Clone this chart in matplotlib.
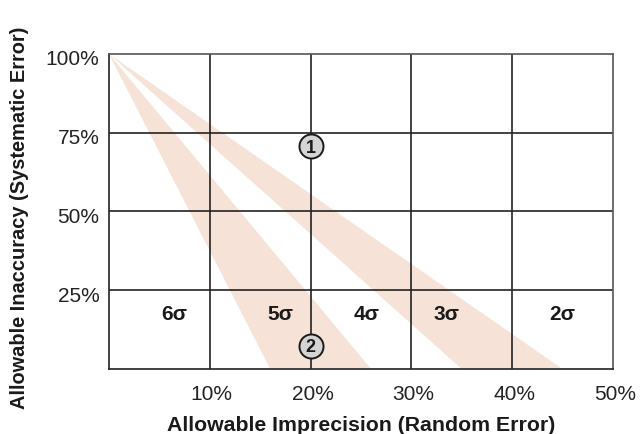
import matplotlib
matplotlib.use('Agg')
import matplotlib.pyplot as plt
import matplotlib.transforms as mtransforms

plt.rcParams['font.family'] = ['Liberation Sans', 'DejaVu Sans']

# shaded bands: each runs from the top-left corner (0%, 100%) down to the x axis
apex_x, apex_y = 0, 100
band_left = [16, 35]
band_right = [26, 45]

# sigma zone labels
sigma_labels = ['6σ', '5σ', '4σ', '3σ', '2σ']
sigma_x = [6.5, 17, 25.6, 33.5, 45]
sigma_y = [17.5, 17.5, 17.5, 17.5, 17.5]

# numbered markers
point_labels = ['1', '2']
point_x = [20, 20]
point_y = [70.7, 7.3]

x_ticks = [10, 20, 30, 40, 50]
y_ticks = [25, 50, 75, 100]

fig = plt.figure(figsize=(6.43, 4.35), dpi=100)
ax = fig.add_axes([0.1695, 0.1494, 0.7838, 0.7242])

for lo, hi in zip(band_left, band_right):
    ax.fill([apex_x, lo, hi], [apex_y, 0, 0], color='#f6e2d6', lw=0, zorder=1)

for x in x_ticks[:-1]:
    ax.axvline(x, color='#222222', lw=1.2, zorder=2)
for y in y_ticks[:-1]:
    ax.axhline(y, color='#222222', lw=1.2, zorder=2)

for lab, x, y in zip(sigma_labels, sigma_x, sigma_y):
    ax.text(x, y, lab, ha='center', va='center', fontsize=15, fontweight='bold', color='#1a1a1a', zorder=4)

ax.scatter(point_x, point_y, s=300, facecolor='#d4d4d4', edgecolor='#1a1a1a', linewidth=1.4, zorder=5)
for lab, x, y in zip(point_labels, point_x, point_y):
    ax.text(x, y - 0.3, lab, ha='center', va='center', fontsize=13, fontweight='bold', color='#1a1a1a', zorder=6)

ax.set_xlim(0, 50)
ax.set_ylim(0, 100)
ax.set_xticks(x_ticks)
ax.set_xticklabels([f'{t}%' for t in x_ticks])
ax.set_yticks(y_ticks)
ax.set_yticklabels([f'{t}%' for t in y_ticks])
ax.tick_params(axis='x', length=0, pad=11, labelsize=15, colors='#222222')
ax.tick_params(axis='y', length=0, pad=7, labelsize=15, colors='#222222')

# labels in the original sit a touch right / below their grid lines
dx = mtransforms.ScaledTranslation(2 / 100, 0, fig.dpi_scale_trans)
dy = mtransforms.ScaledTranslation(0, -3 / 100, fig.dpi_scale_trans)
for lbl in ax.get_xticklabels():
    lbl.set_transform(lbl.get_transform() + dx)
for lbl in ax.get_yticklabels():
    lbl.set_transform(lbl.get_transform() + dy)

for side in ['left', 'bottom']:
    ax.spines[side].set_color('#222222')
    ax.spines[side].set_linewidth(1.2)
for side in ['top', 'right']:
    ax.spines[side].set_color('#555555')
    ax.spines[side].set_linewidth(1.2)

ax.set_xlabel('Allowable Imprecision (Random Error)', fontsize=15.3, fontweight='bold', color='#1a1a1a')
ax.set_ylabel('Allowable Inaccuracy (Systematic Error)', fontsize=14.4, fontweight='bold', color='#1a1a1a')
ax.xaxis.set_label_coords(0.5, -0.146)
ax.yaxis.set_label_coords(-0.159, 0.483)

fig.savefig('out.png', dpi=100)
